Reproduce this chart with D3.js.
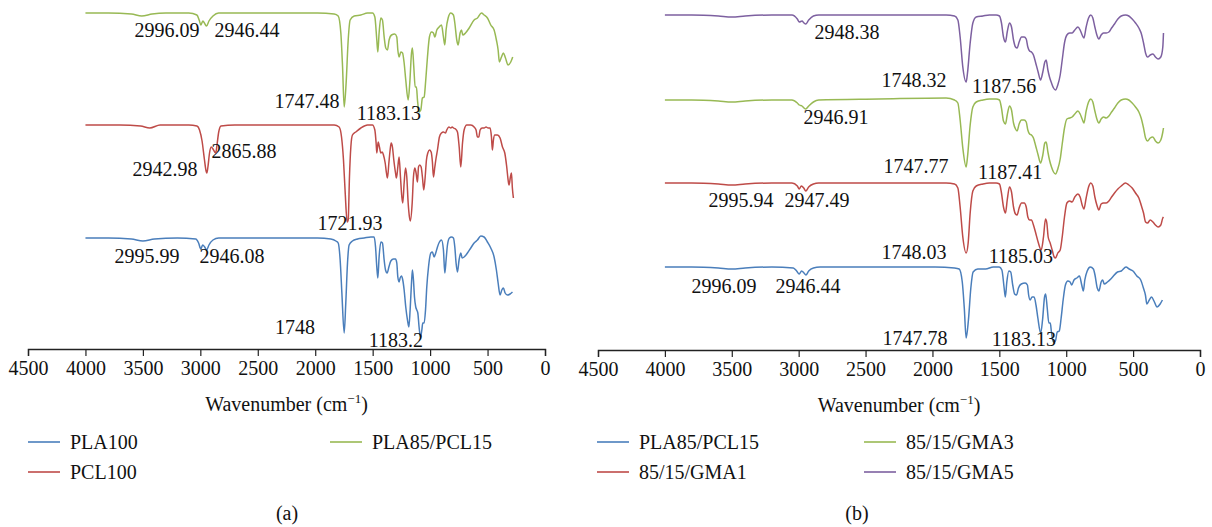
<!DOCTYPE html>
<html>
<head>
<meta charset="utf-8">
<script src="https://cdn.jsdelivr.net/npm/d3@7"></script>
<style>
  body { margin: 0; background: #fff; }
  text { font-family: "Liberation Serif", "DejaVu Serif", serif; fill: #111; }
</style>
</head>
<body>
<svg id="chart" width="1212" height="527"></svg>
<script>
// x ticks shared by both panels (wavenumber, cm-1)
const xTicks = [4500, 4000, 3500, 3000, 2500, 2000, 1500, 1000, 500, 0];

// ---- panel (a): [wavenumber, stacked transmittance (a.u.)] ----
const plaPcl15A = [
  [4000,336],[3800,336],[3600,335],[3510,333],[3420,335],[3300,336],[3100,336],[3030,334],[3010,329],
  [2996,324],[2978,328],[2960,325],[2946,323],[2925,328],[2890,333],[2840,336],[2500,336],[2200,336],
  [1980,336],[1835,335],[1800,333],[1777,316],[1762,282],[1748,242],[1731,266],[1713,309],[1696,329],
  [1661,333],[1603,334],[1545,336],[1501,336],[1481,332],[1464,309],[1455,297],[1444,316],[1429,331],
  [1415,329],[1400,312],[1386,301],[1371,299],[1357,309],[1336,314],[1307,315],[1290,312],[1281,299],
  [1270,292],[1255,297],[1240,296],[1226,286],[1212,269],[1191,249],[1177,266],[1162,296],[1154,301],
  [1142,282],[1130,262],[1119,262],[1110,249],[1096,237],[1081,239],[1067,251],[1052,252],[1038,269],
  [1023,292],[1006,312],[988,317],[971,316],[959,312],[942,319],[921,322],[901,324],[884,312],[872,304],
  [861,319],[843,331],[820,336],[797,334],[785,326],[768,309],[756,304],[739,316],[727,319],[716,314],
  [692,316],[660,321],[617,329],[588,331],[553,336],[530,334],[501,331],[472,324],[443,319],[423,309],
  [408,299],[397,287],[379,292],[362,296],[344,291],[321,284],[298,287],[281,292]
];
const pcl100A = [
  [4000,224],[3700,224],[3520,223],[3440,221],[3350,224],[3100,224],[3030,223],[3007,219],[2985,208],
  [2965,190],[2950,178],[2943,176],[2934,182],[2920,196],[2906,202],[2890,200],[2875,197],[2866,196],
  [2855,204],[2840,217],[2820,223],[2700,224],[2300,224],[1980,224],[1835,224],[1792,222],[1771,212],
  [1754,189],[1739,156],[1722,127],[1713,129],[1702,172],[1690,202],[1676,214],[1647,217],[1603,221],
  [1545,224],[1502,224],[1481,219],[1470,206],[1464,196],[1452,207],[1441,202],[1429,196],[1417,197],
  [1406,194],[1391,186],[1380,176],[1371,171],[1359,186],[1348,199],[1339,206],[1328,202],[1316,189],
  [1301,176],[1293,171],[1281,182],[1270,192],[1258,172],[1246,152],[1238,146],[1226,166],[1214,181],
  [1203,172],[1191,146],[1180,132],[1172,128],[1156,146],[1145,172],[1133,181],[1122,176],[1110,167],
  [1101,182],[1090,184],[1078,182],[1067,172],[1055,159],[1043,172],[1032,189],[1020,196],[1006,199],
  [991,197],[980,187],[971,172],[959,182],[948,191],[936,199],[919,212],[901,216],[884,217],[866,216],
  [855,219],[837,222],[820,221],[808,222],[797,221],[779,220],[762,217],[747,202],[733,182],[718,206],
  [704,219],[681,224],[646,224],[617,222],[600,219],[588,212],[576,212],[565,219],[547,221],[530,221],
  [513,222],[495,221],[478,221],[466,212],[458,199],[449,209],[437,214],[414,214],[391,211],[370,202],
  [350,196],[333,182],[321,169],[313,164],[301,172],[292,176],[284,161],[275,151]
];
const pla100A = [
  [4000,111],[3800,111],[3600,110],[3500,108],[3400,110],[3200,111],[3040,110],[3015,106],[2996,100],
  [2980,104],[2962,102],[2946,99],[2925,104],[2890,109],[2840,111],[2500,111],[2200,111],[1980,111],
  [1864,110],[1820,108],[1800,106],[1783,89],[1768,56],[1748,16],[1734,46],[1719,86],[1705,104],
  [1676,108],[1632,110],[1574,111],[1516,112],[1487,112],[1475,102],[1464,82],[1455,71],[1444,92],
  [1429,107],[1415,106],[1400,89],[1388,79],[1374,76],[1359,82],[1342,88],[1319,90],[1301,90],
  [1290,86],[1281,72],[1270,67],[1261,71],[1249,73],[1238,69],[1226,59],[1212,42],[1197,29],[1185,22],
  [1174,39],[1162,66],[1154,79],[1145,69],[1136,52],[1125,42],[1116,39],[1107,36],[1096,22],[1084,12],
  [1072,19],[1064,26],[1052,26],[1040,39],[1029,62],[1014,82],[994,96],[980,97],[965,92],[951,96],
  [936,102],[919,107],[901,109],[884,99],[872,76],[861,89],[849,104],[832,111],[814,112],[797,111],
  [785,102],[774,86],[762,77],[748,89],[733,96],[721,91],[704,92],[675,96],[646,101],[617,106],
  [588,109],[559,113],[530,112],[501,107],[472,101],[443,92],[423,79],[408,66],[391,54],[376,59],
  [362,61],[347,56],[327,54],[304,55],[283,57]
];

// ---- panel (b) ----
const gma5B = [
  [4000,335],[3800,335],[3600,334],[3500,333],[3400,334],[3200,335],[3050,335],[3010,331],[2995,328],
  [2975,329],[2960,327],[2948,326],[2925,330],[2890,334],[2850,335],[2400,335],[1898,335],[1835,334],
  [1810,330],[1793,313],[1773,283],[1748,268],[1738,277],[1718,307],[1698,327],[1673,333],[1623,334],
  [1574,335],[1524,335],[1499,334],[1484,327],[1469,313],[1454,308],[1441,318],[1424,327],[1409,323],
  [1394,310],[1379,303],[1367,302],[1352,308],[1334,313],[1314,313],[1299,311],[1287,303],[1274,299],
  [1260,298],[1245,295],[1230,288],[1210,278],[1192,270],[1175,278],[1160,288],[1150,290],[1137,280],
  [1125,273],[1110,267],[1095,262],[1080,260],[1063,265],[1045,275],[1030,290],[1013,307],[995,315],
  [975,317],[956,317],[936,320],[913,323],[896,320],[881,315],[868,312],[851,323],[833,332],[816,335],
  [801,332],[786,323],[771,315],[756,311],[739,315],[721,317],[701,317],[681,318],[661,322],[639,326],
  [614,331],[589,334],[557,335],[532,334],[507,331],[482,327],[457,322],[440,317],[422,307],[407,297],
  [392,293],[372,295],[352,296],[333,293],[313,291],[293,293],[278,303],[273,317]
];
const gma3B = [
  [4000,250],[3800,250],[3600,249],[3500,248],[3400,249],[3200,250],[3050,250],[3010,247],[2995,245],
  [2975,244],[2960,242],[2947,241],[2925,244],[2890,248],[2850,250],[2400,251],[1898,252],[1835,250],
  [1810,247],[1793,230],[1773,202],[1748,183],[1738,193],[1718,225],[1698,243],[1673,248],[1623,250],
  [1574,251],[1524,251],[1499,250],[1484,242],[1469,229],[1454,226],[1441,235],[1424,244],[1409,240],
  [1394,227],[1379,221],[1367,219],[1352,226],[1334,230],[1314,230],[1299,228],[1287,220],[1274,216],
  [1260,215],[1245,212],[1230,205],[1210,195],[1192,187],[1175,195],[1160,207],[1150,208],[1137,198],
  [1125,190],[1110,183],[1095,178],[1080,176],[1063,181],[1045,191],[1030,206],[1013,222],[995,231],
  [975,232],[956,233],[936,236],[913,239],[896,236],[881,231],[868,227],[851,239],[833,248],[816,251],
  [801,248],[786,239],[771,231],[756,227],[739,231],[721,233],[701,232],[681,234],[661,238],[639,242],
  [614,247],[589,250],[557,251],[532,250],[507,247],[482,243],[457,238],[440,232],[422,222],[407,212],
  [392,209],[372,212],[352,213],[333,209],[313,207],[293,210],[278,218],[273,222]
];
const gma1B = [
  [4000,167],[3800,167],[3600,166],[3500,165],[3400,166],[3200,167],[3050,167],[3010,164],[2996,161],
  [2980,164],[2962,162],[2947,159],[2925,163],[2890,166],[2850,167],[2400,167],[1898,167],[1835,166],
  [1810,162],[1793,143],[1773,113],[1748,97],[1733,107],[1718,137],[1698,159],[1673,164],[1623,166],
  [1574,167],[1524,167],[1499,166],[1484,157],[1469,143],[1454,137],[1441,150],[1424,163],[1409,158],
  [1394,143],[1379,136],[1367,135],[1352,142],[1334,147],[1314,147],[1299,143],[1287,133],[1274,130],
  [1260,130],[1245,125],[1230,118],[1210,108],[1187,100],[1170,113],[1155,131],[1145,127],[1135,113],
  [1120,107],[1105,100],[1090,93],[1080,92],[1063,97],[1045,100],[1030,113],[1013,133],[995,147],
  [975,149],[956,148],[936,153],[913,156],[896,153],[881,145],[868,141],[851,152],[833,163],[816,167],
  [801,164],[786,153],[771,145],[756,140],[739,146],[721,147],[701,147],[681,149],[661,153],[639,157],
  [614,161],[589,164],[557,167],[532,165],[507,162],[482,157],[457,152],[440,145],[422,137],[407,128],
  [392,127],[372,130],[352,128],[333,125],[313,123],[293,125],[278,132],[273,133]
];
const plaPcl15B = [
  [4000,83],[3800,83],[3600,82],[3500,81],[3400,82],[3200,83],[3040,82],[3015,79],[2996,76],[2978,79],
  [2960,77],[2946,75],[2925,79],[2890,82],[2840,83],[2400,83],[1980,83],[1835,82],[1800,81],[1777,68],
  [1762,42],[1748,12],[1731,30],[1713,62],[1696,78],[1661,81],[1603,81],[1545,83],[1501,83],[1481,80],
  [1464,62],[1455,53],[1444,68],[1429,79],[1415,78],[1400,65],[1386,56],[1371,55],[1357,62],[1336,66],
  [1307,67],[1290,65],[1281,55],[1270,50],[1255,53],[1240,53],[1226,45],[1212,32],[1191,17],[1177,30],
  [1162,53],[1154,56],[1142,42],[1130,27],[1119,27],[1110,17],[1096,8],[1081,9],[1067,18],[1052,19],
  [1038,32],[1023,50],[1006,65],[988,69],[971,68],[959,65],[942,70],[921,72],[901,74],[884,65],[872,59],
  [861,70],[843,79],[820,83],[797,81],[785,75],[768,62],[756,59],[739,68],[727,70],[716,66],[692,68],
  [660,72],[617,78],[588,79],[553,83],[530,81],[501,79],[472,74],[443,70],[423,62],[408,55],[397,46],
  [379,50],[362,53],[344,49],[321,43],[298,46],[281,50]
];

// peak annotations: [text, wavenumber, value] (text centre)
const notesA = [
  ["2996.09",3290,319],["2946.44",2594,319],["1747.48",2072,248],["1183.13",1358,236],
  ["2942.98",3308,180],["2865.88",2620,198],["1721.93",1697,126],
  ["2995.99",3464,93],["2946.08",2724,93],["1748",2176,22],["1183.2",1297,9]
];
const notesB = [
  ["2948.38",2639,318],["1748.32",2138,270],["1187.56",1465,264],
  ["2946.91",2721,233],["1747.77",2123,184],["1187.41",1420,178],
  ["2995.94",3431,150],["2947.49",2863,150],["1748.03",2138,98],["1185.03",1338,94],
  ["2996.09",3558,64],["2946.44",2930,64],["1747.78",2130,12],["1183.13",1316,11]
];

const namesA = ["PLA100", "PCL100", "PLA85/PCL15"];
const namesB = ["PLA85/PCL15", "85/15/GMA1", "85/15/GMA3", "85/15/GMA5"];
const colors = { blue: "#4a7ebb", red: "#be4b48", green: "#98b954", purple: "#7d60a0" };

const FONT = "20px";
const svg = d3.select("#chart");

function drawPanel(p) {
  const g = svg.append("g");
  const x = d3.scaleLinear().domain([4500, 0]).range([p.x0, p.x1]);
  const y = d3.scaleLinear().domain([0, p.axisY]).range([p.axisY, 0]);

  const line = d3.line()
    .x(d => x(d[0]))
    .y(d => y(d[1]))
    .curve(d3.curveMonotoneX);

  p.series.forEach(s => {
    g.append("path")
      .datum(s.data)
      .attr("fill", "none")
      .attr("stroke", s.color)
      .attr("stroke-width", 1.5)
      .attr("stroke-linejoin", "round")
      .attr("d", line);
  });

  // x axis
  const ax = g.append("g")
    .attr("transform", "translate(0," + p.axisY + ")")
    .call(d3.axisBottom(x).tickValues(xTicks).tickSize(7).tickPadding(5).tickFormat(d3.format("d")));
  ax.select(".domain").attr("stroke", "#222").attr("stroke-width", 1.4);
  ax.selectAll(".tick line").attr("stroke", "#222").attr("stroke-width", 1.2);
  ax.selectAll(".tick text")
    .style("font-family", '"Liberation Serif", serif')
    .style("font-size", FONT)
    .attr("fill", "#111");

  // axis title
  const t = g.append("text")
    .attr("x", (p.x0 + p.x1) / 2)
    .attr("y", p.axisY + 62)
    .attr("text-anchor", "middle")
    .style("font-size", FONT);
  t.append("tspan").text("Wavenumber (cm");
  t.append("tspan").attr("dy", -8).style("font-size", "13px").text("\u22121");
  t.append("tspan").attr("dy", 8).text(")");

  // peak labels
  g.selectAll(".note")
    .data(p.notes)
    .enter().append("text")
    .attr("class", "note")
    .attr("x", d => x(d[1]))
    .attr("y", d => y(d[2]))
    .attr("dy", "0.35em")
    .attr("text-anchor", "middle")
    .style("font-size", FONT)
    .text(d => d[0]);

  // legend
  p.legend.forEach(l => {
    g.append("line")
      .attr("x1", l.x).attr("x2", l.x + 32)
      .attr("y1", l.y).attr("y2", l.y)
      .attr("stroke", l.color).attr("stroke-width", 1.6);
    g.append("text")
      .attr("x", l.x + 42).attr("y", l.y)
      .attr("dy", "0.35em")
      .style("font-size", FONT)
      .text(l.name);
  });

  g.append("text")
    .attr("x", p.capX).attr("y", 513)
    .attr("dy", "0.35em")
    .attr("text-anchor", "middle")
    .style("font-size", FONT)
    .text(p.caption);
}

drawPanel({
  x0: 28, x1: 545, axisY: 349, caption: "(a)", capX: 287,
  series: [
    { data: plaPcl15A, color: colors.green },
    { data: pcl100A, color: colors.red },
    { data: pla100A, color: colors.blue }
  ],
  notes: notesA,
  legend: [
    { name: namesA[0], color: colors.blue, x: 28, y: 442 },
    { name: namesA[1], color: colors.red, x: 28, y: 472 },
    { name: namesA[2], color: colors.green, x: 330, y: 442 }
  ]
});

drawPanel({
  x0: 598, x1: 1200, axisY: 350, caption: "(b)", capX: 857,
  series: [
    { data: gma5B, color: colors.purple },
    { data: gma3B, color: colors.green },
    { data: gma1B, color: colors.red },
    { data: plaPcl15B, color: colors.blue }
  ],
  notes: notesB,
  legend: [
    { name: namesB[0], color: colors.blue, x: 597, y: 442 },
    { name: namesB[1], color: colors.red, x: 597, y: 472 },
    { name: namesB[2], color: colors.green, x: 864, y: 442 },
    { name: namesB[3], color: colors.purple, x: 864, y: 472 }
  ]
});
</script>
</body>
</html>
